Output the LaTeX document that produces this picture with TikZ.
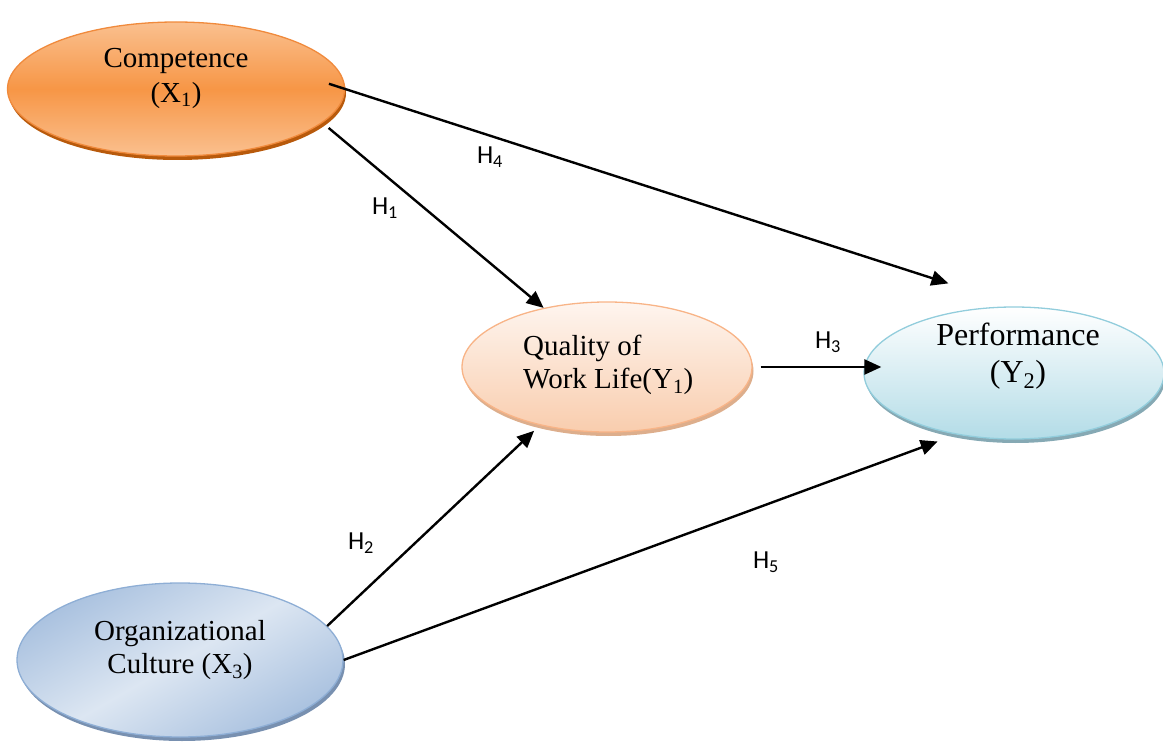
\documentclass[tikz,border=0pt]{standalone}
\usepackage{fontspec}
\setmainfont{Liberation Serif}
\newfontfamily\hypfont{Carlito}
\usetikzlibrary{arrows.meta,shapes.geometric,shadows}

\definecolor{compfill}{HTML}{F79646}
\definecolor{complight}{HTML}{FAC08F}
\definecolor{compline}{HTML}{F08A3C}
\definecolor{compshade}{HTML}{B85A0C}
\definecolor{qualtop}{HTML}{FEF5EF}
\definecolor{qualbot}{HTML}{F9CDAE}
\definecolor{qualline}{HTML}{F8B487}
\definecolor{qualshade}{HTML}{DDAE8C}
\definecolor{perfbot}{HTML}{B3DCE7}
\definecolor{perfline}{HTML}{92CDDC}
\definecolor{perfshade}{HTML}{86A9B4}
\definecolor{orgdark}{HTML}{A9C1DF}
\definecolor{orglight}{HTML}{DCE6F2}
\definecolor{orgline}{HTML}{8EAED5}
\definecolor{orgshade}{HTML}{7890B0}

\begin{document}
\begin{tikzpicture}[x=1pt, y=-1pt,
    bubble/.style={ellipse, inner sep=0pt, line width=1.3pt},
    conn/.style={-{Triangle[length=17pt,width=15pt]}, line width=2.4pt},
    hyp/.style={font=\hypfont\fontsize{26}{26}\selectfont, inner sep=0pt}]
  \useasboundingbox (0,0) rectangle (1163,746);

  % the four constructs
  \node [bubble, minimum width=337pt, minimum height=134pt, draw=compline,
    top color=complight, bottom color=complight, middle color=compfill,
    drop shadow={shadow xshift=1.5pt, shadow yshift=-4pt, fill=compshade, opacity=1}] (comp) at (176,89) {};
  \node [bubble, minimum width=290pt, minimum height=130pt, draw=qualline,
    top color=qualtop, bottom color=qualbot,
    drop shadow={shadow xshift=1.5pt, shadow yshift=-4pt, fill=qualshade, opacity=1}] (qual) at (607,367) {};
  \node [bubble, minimum width=300pt, minimum height=132pt, draw=perfline,
    top color=white, bottom color=perfbot,
    drop shadow={shadow xshift=1.5pt, shadow yshift=-4pt, fill=perfshade, opacity=1}] (perf) at (1014,373) {};
  \node [bubble, minimum width=326pt, minimum height=154pt, draw=orgline,
    left color=orgdark, right color=orgdark, middle color=orglight, shading angle=30,
    drop shadow={shadow xshift=2pt, shadow yshift=-4pt, fill=orgshade, opacity=1}] (org) at (180,660) {};

  \node [font=\fontsize{29}{35}\selectfont, align=center, inner sep=0pt] (comptext) at (176,78)
    {Competence\\(X\textsubscript{1})};
  \node [font=\fontsize{29}{33}\selectfont, align=left, anchor=west, inner sep=0pt] (qualtext) at (523,365)
    {Quality of\\Work Life(Y\textsubscript{1})};
  \node [font=\fontsize{32}{37}\selectfont, align=center, inner sep=0pt] (perftext) at (1018,356)
    {Performance\\(Y\textsubscript{2})};
  \node [font=\fontsize{29}{33}\selectfont, align=center, inner sep=0pt] (orgtext) at (180,650)
    {Organizational\\Culture (X\textsubscript{3})};

  % hypotheses
  \draw [conn, shorten <=-17pt, shorten >=75pt] (comp.east) -- (perf.85);
  \draw [conn, shorten <=8pt] (comp.-13) -- (qual.137);
  \draw [conn, shorten <=8pt, shorten >=-18pt] (qual.east) -- (qual.east -| perf.west);
  \draw [conn, shorten >=8pt] (org.13) -- (qual.-139);
  \draw [conn, shorten >=20pt] (org.east) -- (perf.-133);

  \node [hyp] (h1) at (385,208) {H\textsubscript{1}};
  \node [hyp] (h2) at (361,543) {H\textsubscript{2}};
  \node [hyp] (h3) at (828,342) {H\textsubscript{3}};
  \node [hyp] (h4) at (490,157) {H\textsubscript{4}};
  \node [hyp] (h5) at (766,562) {H\textsubscript{5}};
\end{tikzpicture}
\end{document}
